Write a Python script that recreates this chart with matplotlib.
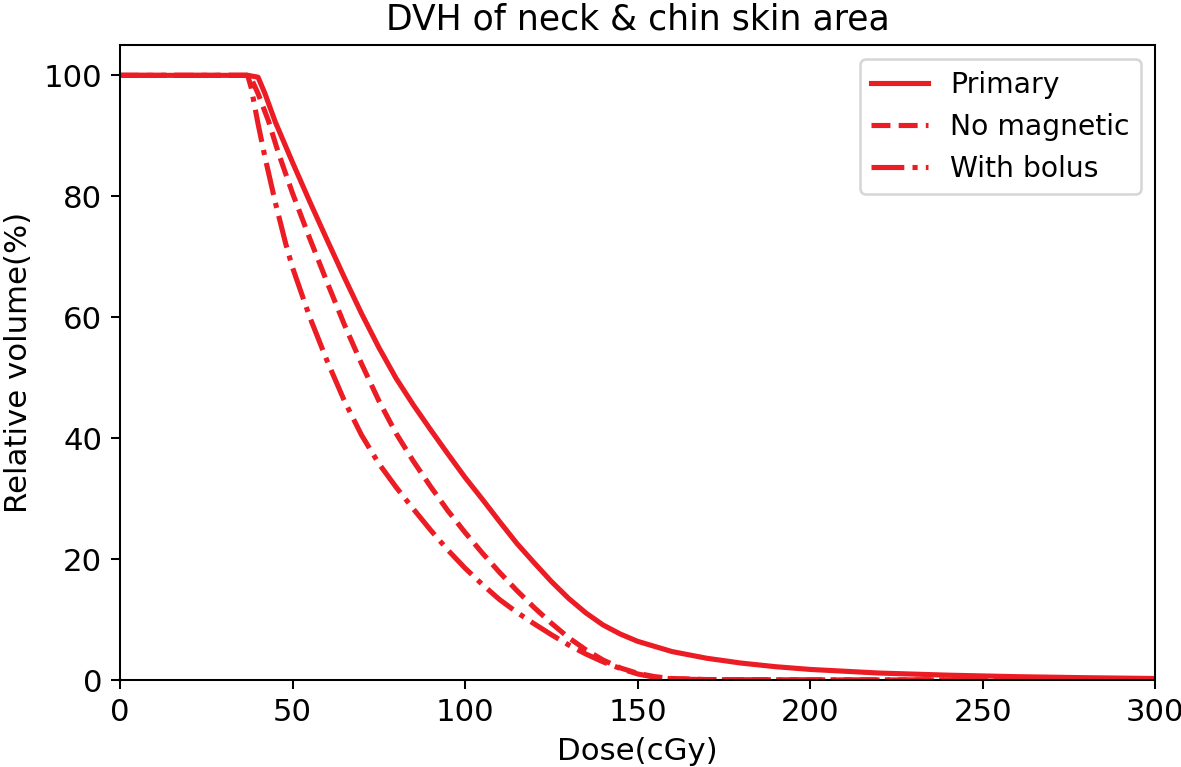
import matplotlib
matplotlib.use("Agg")
import matplotlib.pyplot as plt
import numpy as np

# dose (cGy) / relative volume (%)
dose_primary = [0, 10, 20, 30, 37, 40, 42, 45, 50, 55, 60, 65, 70, 75, 80, 85, 90, 95, 100, 105,
                110, 115, 120, 125, 130, 135, 140, 145, 150, 160, 170, 180, 190, 200, 220, 240, 260, 280, 300]
vol_primary = [100, 100, 100, 100, 100, 99.7, 97, 92.3, 85.6, 79.1, 72.8, 66.6, 60.6, 55.0, 49.9, 45.5, 41.4,
               37.4, 33.5, 29.9, 26.2, 22.6, 19.4, 16.3, 13.5, 11.1, 9.1, 7.6, 6.4, 4.7, 3.6, 2.8, 2.2, 1.75,
               1.15, 0.8, 0.55, 0.38, 0.25]

dose_nomag = [0, 10, 20, 30, 37, 38, 40, 43, 46, 50, 55, 60, 65, 70, 75, 80, 85, 90, 95, 100, 105,
              110, 115, 120, 125, 130, 135, 140, 145, 150, 155, 160, 170, 200, 300]
vol_nomag = [100, 100, 100, 100, 100, 99.5, 97, 92.5, 87, 80.5, 73.0, 65.8, 58.8, 52.3, 46.2, 40.8, 36.2,
             32.0, 28.0, 24.4, 21.0, 17.8, 14.8, 12.0, 9.4, 7.0, 5.0, 3.3, 2.0, 1.1, 0.55, 0.25, 0.08, 0.02, 0]

dose_bolus = [0, 10, 20, 30, 37, 38, 40, 42, 45, 48, 50, 55, 60, 65, 70, 75, 80, 85, 90, 95, 100,
              105, 110, 115, 120, 125, 130, 135, 140, 145, 150, 155, 160, 170, 300]
vol_bolus = [100, 100, 100, 100, 100, 98, 92, 86.5, 79, 72.2, 68.2, 60.0, 52.8, 46.2, 40.5, 35.8, 31.9,
             28.3, 24.8, 21.5, 18.5, 15.8, 13.3, 11.2, 9.3, 7.5, 5.8, 4.3, 3.0, 1.9, 1.0, 0.45, 0.2, 0.05, 0]

red = '#ec1c24'

fig = plt.figure(figsize=(6.402, 4.158), dpi=184.5)
ax = fig.add_axes([0.1016, 0.1134, 0.8764, 0.8276])

ax.plot(dose_primary, vol_primary, color=red, linestyle='-', lw=2, label='Primary')
ax.plot(dose_nomag, vol_nomag, color=red, linestyle='--', lw=2, label='No magnetic')
ax.plot(dose_bolus, vol_bolus, color=red, linestyle='-.', lw=2, label='With bolus')

ax.set_xlim(0, 300)
ax.set_ylim(0, 105)
ax.set_xticks([0, 50, 100, 150, 200, 250, 300])
ax.set_yticks([0, 20, 40, 60, 80, 100])
ax.tick_params(labelsize=12)
ax.set_xlabel('Dose(cGy)', fontsize=12)
ax.set_ylabel('Relative volume(%)', fontsize=12)
ax.set_title('DVH of neck & chin skin area', fontsize=13.5)
ax.legend(loc='upper right', fontsize=11)

fig.savefig('out.png', dpi=184.5)
